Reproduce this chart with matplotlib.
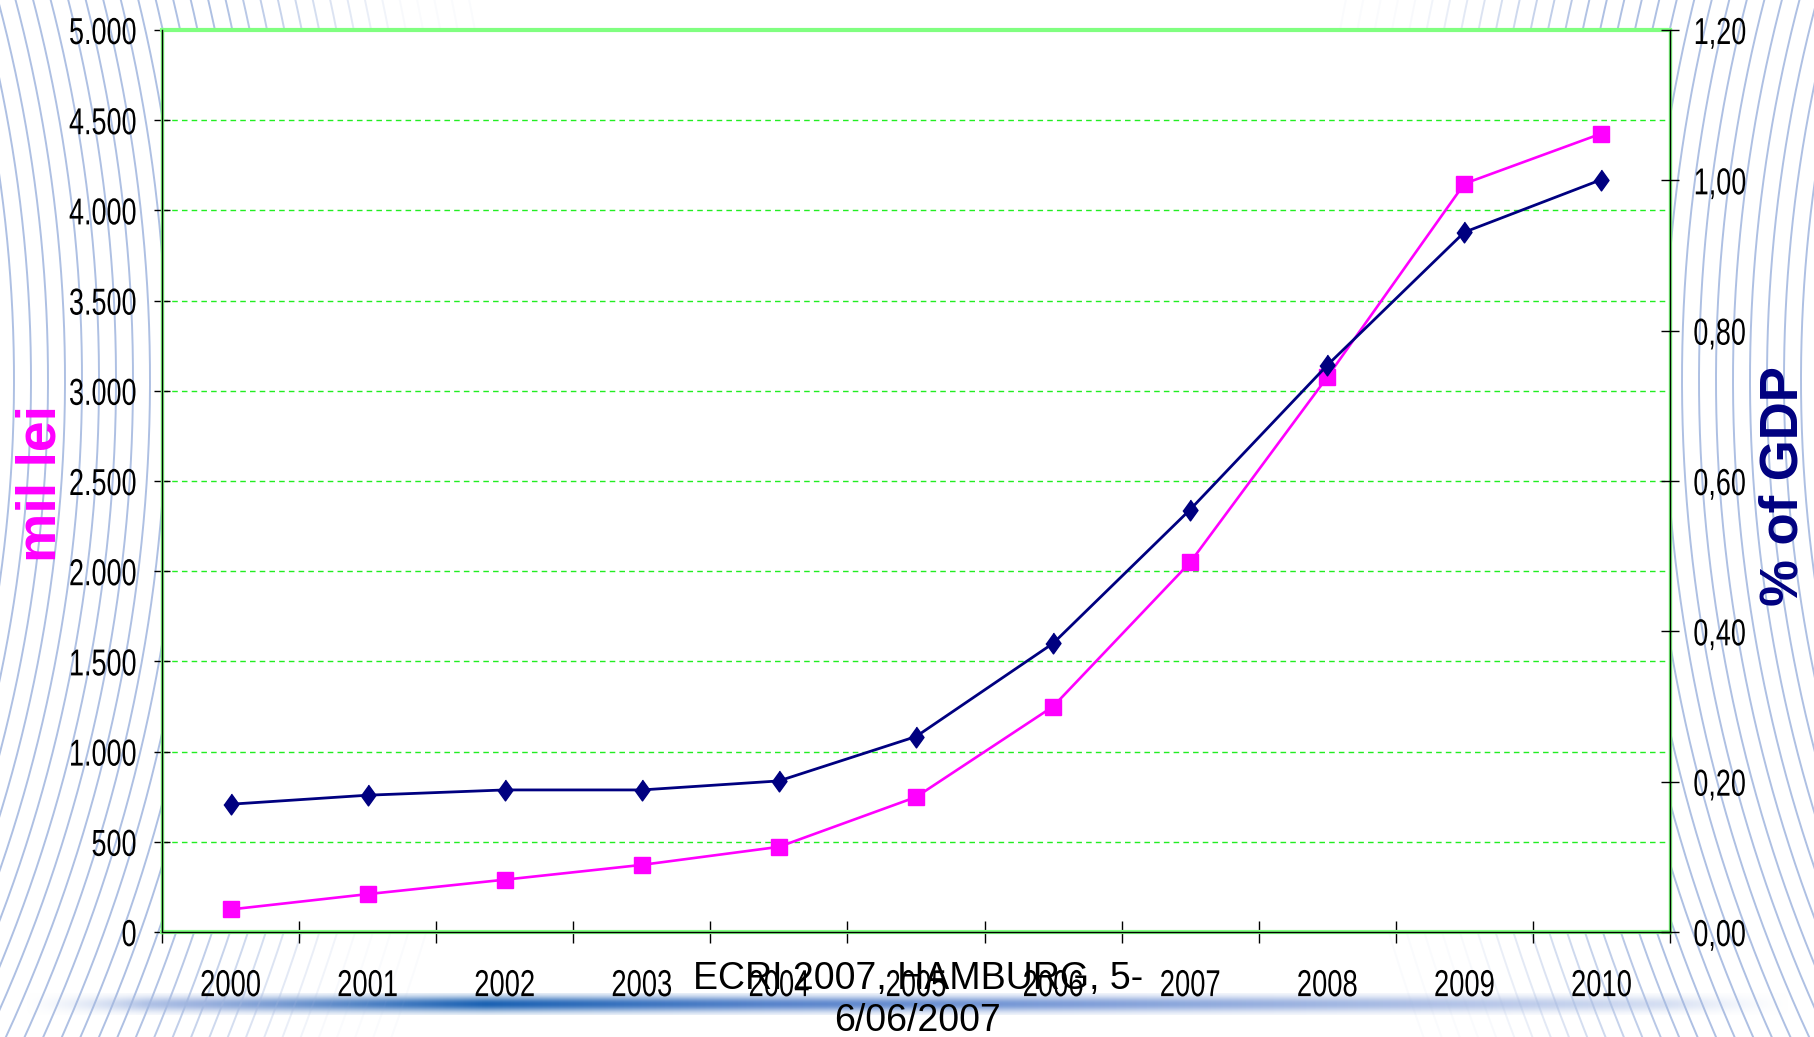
import numpy as np
import matplotlib.pyplot as plt
from matplotlib.patheffects import AbstractPathEffect
from matplotlib.transforms import Affine2D

# dados
anos = ['2000', '2001', '2002', '2003', '2004', '2005', '2006', '2007', '2008', '2009', '2010']
mil_lei = [125, 210, 290, 372, 472, 748, 1250, 2049, 3076, 4148, 4426]
pct_pib = [0.170, 0.182, 0.189, 0.189, 0.201, 0.260, 0.384, 0.562, 0.754, 0.931, 1.001]
ticks_lei = [0, 500, 1000, 1500, 2000, 2500, 3000, 3500, 4000, 4500, 5000]
ticks_pib = [0.0, 0.2, 0.4, 0.6, 0.8, 1.0, 1.2]

W, H = 1815, 1037
fonte = ['Liberation Sans', 'DejaVu Sans']


class Estreitar(AbstractPathEffect):
    # comprime o texto na horizontal (imita a fonte Arial Narrow)
    def __init__(self, fator=0.75, ancora='center'):
        super().__init__()
        self.fator = fator
        self.ancora = ancora

    def draw_path(self, renderer, gc, tpath, affine, rgbFace=None):
        ext = tpath.get_extents()
        if self.ancora == 'right':
            x0 = ext.x1
        elif self.ancora == 'left':
            x0 = ext.x0
        else:
            x0 = (ext.x0 + ext.x1) / 2
        t = Affine2D().translate(-x0, 0).scale(self.fator, 1).translate(x0, 0) + affine
        renderer.draw_path(gc, tpath, t, rgbFace)


fig = plt.figure(figsize=(W / 100, H / 100), dpi=100)

# fundo decorativo (arcos do slide)
bg = fig.add_axes([0, 0, 1, 1], zorder=0)
bg.set_xlim(0, W)
bg.set_ylim(H, 0)
bg.axis('off')
t = np.linspace(-np.pi / 2, np.pi / 2, 500)
for k in range(32):
    r = 1400 + 17 * k
    a = 0.85 if r < 1680 else max(0.05, 0.85 - (r - 1680) / 230)
    bg.plot(-1420 + r * np.cos(t), 380 + r * np.sin(t), color='#a0b5de', lw=1.4, alpha=a)
    bg.plot(W + 1420 - r * np.cos(t), 380 + r * np.sin(t), color='#a0b5de', lw=1.4, alpha=a)

# faixa azul em degrade no rodape
xs = np.array([0, 180, 460, 750, 1050, 1400, 1765])
cores = np.array([[0.88, 0.91, 0.97], [0.60, 0.69, 0.87], [0.10, 0.38, 0.70],
                  [0.35, 0.52, 0.80], [0.50, 0.62, 0.85], [0.68, 0.75, 0.90],
                  [0.92, 0.94, 0.98]])
n = 600
xx = np.linspace(0, 1765, n)
rgb = np.stack([np.interp(xx, xs, cores[:, i]) for i in range(3)], axis=1)
perfil = np.exp(-((np.linspace(-1, 1, 21)) ** 2) / 0.5)
img = np.zeros((21, n, 4))
img[:, :, :3] = rgb[None, :, :]
img[:, :, 3] = perfil[:, None] * np.clip(np.minimum(xx, 1765 - xx) / 120, 0, 1)[None, :]
bg.imshow(img, extent=(25, 1790, 1015, 993), aspect='auto', interpolation='bilinear')

# grafico principal
ax = fig.add_axes([162 / W, 1 - 932 / H, (1670 - 162) / W, (932 - 30) / H], zorder=1)
ax.set_facecolor('white')
x = np.arange(len(anos))
ax.plot(x, mil_lei, color='#ff00ff', lw=1.9, marker='s', ms=11, zorder=3)
ax.set_xlim(-0.5, len(anos) - 0.5)
ax.set_ylim(0, 5000)
ax.set_yticks(ticks_lei)
ax.set_yticklabels([f'{v:,}'.replace(',', '.') for v in ticks_lei], family=fonte,
                   path_effects=[Estreitar(0.72, 'right')])
ax.grid(axis='y', color='#22ee22', ls=(0, (4, 3)), lw=1)
ax.set_axisbelow(True)

ax.set_xticks(np.arange(-0.5, len(anos)))
ax.set_xticks(x, minor=True)
ax.set_xticklabels(anos, minor=True, family=fonte, path_effects=[Estreitar(0.73, 'center')])
ax.tick_params(axis='x', which='major', direction='inout', length=16, width=1, labelbottom=False)
ax.tick_params(axis='x', which='minor', length=0, pad=26, labelsize=27)
ax.tick_params(axis='y', direction='inout', length=12, width=1, pad=12, labelsize=27)

for lado in ['top', 'bottom']:
    ax.spines[lado].set_color('#80ff80')
    ax.spines[lado].set_linewidth(3)
for lado in ['left', 'right']:
    ax.spines[lado].set_color('#80ff80')
    ax.spines[lado].set_linewidth(2.5)

# eixo secundario: % do PIB
ax2 = ax.twinx()
losango = [(0, 1), (0.72, 0), (0, -1), (-0.72, 0)]
ax2.plot(x, pct_pib, color='#000080', lw=2.0, marker=losango, ms=15, zorder=3)
ax2.set_ylim(0, 1.2)
ax2.set_yticks(ticks_pib)
ax2.set_yticklabels([f'{v:.2f}'.replace('.', ',') for v in ticks_pib], family=fonte,
                    path_effects=[Estreitar(0.72, 'left')])
ax2.tick_params(axis='y', direction='inout', length=13, width=1, pad=10, labelsize=27)
ax2.spines['top'].set_visible(False)
for lado in ['left', 'right', 'bottom']:
    ax2.spines[lado].set_color('black')
    ax2.spines[lado].set_linewidth(1)

# titulos dos eixos e rodape
fig.text(41 / W, 1 - 483 / H, 'mil lei', rotation=90, ha='center', va='center',
         color='#ff00ff', fontsize=40, fontweight='bold', family=fonte)
fig.text(1784 / W, 1 - 486 / H, '% of GDP', rotation=90, ha='center', va='center',
         color='#000080', fontsize=38, fontweight='bold', family=fonte)
fig.text(918 / W, 1 - 961 / H, 'ECRI 2007, HAMBURG, 5-\n6/06/2007', ha='center', va='top',
         fontsize=27, family=fonte, zorder=5)

fig.savefig('out.png', dpi=100)
